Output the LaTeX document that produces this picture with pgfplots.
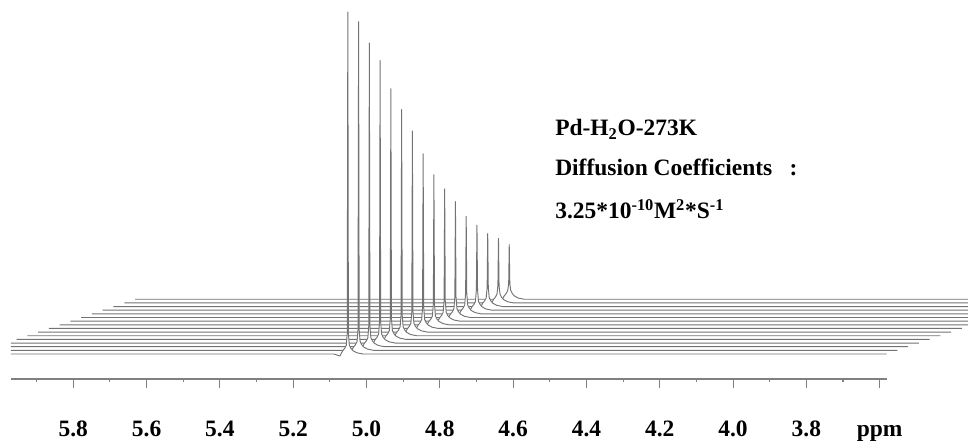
\documentclass[border=0pt]{standalone}
\usepackage{fontspec}
\setmainfont{Liberation Serif}
\usepackage{pgfplots}
\usepackage{pgfplotstable}
\pgfplotsset{compat=1.18}

% 1H DOSY stack: 16 gradient steps, water signal near 5.05 ppm.
% Columns h0..h15: intensity of each increment (front to back), relative units.
\pgfplotstableread{
ppm     h0    h1    h2    h3    h4    h5    h6    h7    h8    h9    h10   h11   h12   h13   h14   h15
6.072   0     0     0     0     0     0     0     0     0     0     0     0     0     0     0     0
5.0892  0     0     0     0     0     0     0     0     0     0     0     0     0     0     0     0
5.0728  -0.6  -0.6  -0.6  -0.6  -0.6  -0.6  -0.6  -0.6  -0.6  -0.6  -0.6  -0.6  -0.6  -0.6  -0.6  -0.6
5.0646  1.0   1.0   1.0   1.0   1.0   1.0   1.0   1.0   1.0   1.0   1.0   1.0   1.0   1.0   1.0   1.0
5.0592  1.7   1.7   1.7   1.7   1.7   1.7   1.7   1.7   1.7   1.7   1.7   1.7   1.7   1.7   1.7   1.7
5.0551  2.6   2.6   2.6   2.6   2.6   2.6   2.6   2.6   2.6   2.6   2.6   2.6   2.6   2.6   2.6   2.6
5.0526  6.0   6.0   6.0   6.0   6.0   6.0   6.0   6.0   6.0   6.0   6.0   6.0   6.0   5.5   5.0   4.5
5.0510  100   96.1  88.8  82.6  73.3  66.2  58.8  51.1  43.9  38.7  33.9  28.5  24.9  21.4  18.9  16.0
5.0494  6.0   6.0   6.0   6.0   6.0   6.0   6.0   6.0   6.0   6.0   6.0   6.0   6.0   5.5   5.0   4.5
5.0469  2.6   2.6   2.6   2.6   2.6   2.6   2.6   2.6   2.6   2.6   2.6   2.6   2.6   2.6   2.6   2.6
5.0428  1.7   1.7   1.7   1.7   1.7   1.7   1.7   1.7   1.7   1.7   1.7   1.7   1.7   1.7   1.7   1.7
5.0374  1.0   1.0   1.0   1.0   1.0   1.0   1.0   1.0   1.0   1.0   1.0   1.0   1.0   1.0   1.0   1.0
5.0264  0.35  0.35  0.35  0.35  0.35  0.35  0.35  0.35  0.35  0.35  0.35  0.35  0.35  0.35  0.35  0.35
5.0101  0     0     0     0     0     0     0     0     0     0     0     0     0     0     0     0
3.581   0     0     0     0     0     0     0     0     0     0     0     0     0     0     0     0
}\spectra

\definecolor{trace}{gray}{0.45}
\definecolor{ruler}{gray}{0.5}

\begin{document}
\begin{tikzpicture}
\useasboundingbox (0,0) rectangle (726pt,333.75pt);

% stacked spectra, drawn back to front with hidden-line fill
\begin{axis}[
  at={(8.25pt,0pt)}, anchor=south west,
  scale only axis, width=717.75pt, height=333.75pt,
  xmin=3.359, xmax=5.970, x dir=reverse,
  ymin=-26.61, ymax=103.51,
  axis lines=none, clip=true,
]
\pgfplotsinvokeforeach{15,14,...,0}{
  \addplot[draw=trace, line width=0.7pt, fill=white, line join=round]
    table[x expr=\thisrow{ppm}-#1*0.02936, y expr=\thisrow{h#1}+#1*1.067] {\spectra};
}
\end{axis}

% chemical shift scale
\begin{axis}[
  at={(8.25pt,49.5pt)}, anchor=south west,
  scale only axis, width=657pt, height=10pt,
  xmin=3.58, xmax=5.97, x dir=reverse,
  ymin=0, ymax=1,
  hide y axis,
  axis x line*=bottom,
  x axis line style={-, draw=ruler, line width=0.8pt},
  xtick={5.8,5.6,5.4,5.2,5.0,4.8,4.6,4.4,4.2,4.0,3.8,3.6},
  xticklabels={5.8,5.6,5.4,5.2,5.0,4.8,4.6,4.4,4.2,4.0,3.8,ppm},
  minor xtick={5.9,5.7,5.5,5.3,5.1,4.9,4.7,4.5,4.3,4.1,3.9,3.7},
  tick align=outside,
  major tick length=6.75pt, minor tick length=2.25pt,
  every tick/.style={draw=ruler, line width=0.8pt},
  xticklabel style={font=\fontsize{17.6}{20}\selectfont\bfseries, anchor=base, yshift=-36.5pt},
]
\end{axis}

\begin{scope}[every node/.style={anchor=base west, inner sep=0pt, font=\fontsize{17.6}{21}\selectfont\bfseries}]
\node at (416.25pt,231.75pt) {Pd-H\textsubscript{2}O-273K};
\node at (416.25pt,202.3pt) {Diffusion Coefficients\hspace{13pt}:};
\node at (416.25pt,169.7pt) {3.25*10\textsuperscript{-10}M\textsuperscript{2}*S\textsuperscript{-1}};
\end{scope}
\end{tikzpicture}
\end{document}
